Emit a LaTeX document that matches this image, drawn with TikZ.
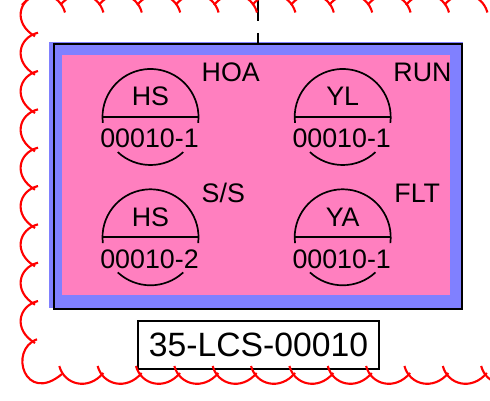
\documentclass[tikz,border=0pt]{standalone}
\usepackage{fontspec}
\setmainfont{Liberation Sans}
\usepackage{xcolor}
\definecolor{panelblue}{HTML}{8080FF}
\definecolor{panelpink}{HTML}{FF7FBF}
\tikzset{
    cloud edge/.style={draw=red, line width=2.1pt},
    instr line/.style={draw=black, line width=1.7pt},
    instr text/.style={anchor=base, inner sep=0pt, font=\fontsize{26.8}{30}\selectfont},
    lamp label/.style={anchor=base west, inner sep=0pt, font=\fontsize{26.8}{30}\selectfont}
}
\begin{document}
\begin{tikzpicture}[x=1pt, y=-1pt]
    \clip (0,0) rectangle (490,401);
    \fill[panelblue] (49,42.5) rectangle (463,308);
    \fill[panelpink] (62,55.5) rectangle (450,295);
    \node (panel) [draw, line width=2.5pt, inner sep=0pt, minimum width=408pt, minimum height=265pt] at (258,176.5) {};

    % lead going up out of the panel
    \coordinate (lead) at (258,0);
    \draw[line width=1.7pt, dash pattern=on 21pt off 12pt] (lead) -- (lead |- panel.north);

    \foreach \n/\cx/\cy/\tagtext/\numtext/\lab/\labx in {
        a/150.5/117/HS/00010-1/HOA/51,
        b/342.7/117/YL/00010-1/RUN/50.5,
        c/150.5/237.3/HS/00010-2/S\slash S/51,
        d/342.7/237.3/YA/00010-1/FLT/51.5} {
        \begin{scope}[shift={(\cx,\cy)}]
            \draw[instr line] (187:48pt) arc[start angle=187, end angle=-7, radius=48pt];
            \draw[instr line] (-48,0) -- (48,0);
            \draw[instr line] (-133:48pt) arc[start angle=-133, end angle=-47, radius=48pt];
            \node (tag\n) [instr text] at (0,-11) {\tagtext};
            \node (num\n) [instr text] at (-1,31) {\numtext};
            \node (lab\n) [lamp label] at (\labx,-35) {\lab};
        \end{scope}
    }

    \node (title) [draw, line width=1.7pt, fill=white, inner sep=0pt, minimum width=241pt, minimum height=48pt,
        font=\fontsize{33.7}{38}\selectfont] at (258.5,345) {35-LCS-00010};

    % scallops, left side then bottom then top
    \foreach \i [evaluate=\i as \ty using 32.7+38.33*\i] in {-1,...,7} {
        \draw[cloud edge] (38,\ty) .. controls (18,\ty+5) and (13,\ty+29) .. (35,\ty+42);
    }
    \draw[cloud edge] (37,339.3) .. controls (8,350) and (25,405) .. (62,374);
    \foreach \i [evaluate=\i as \tx using 59.3+38.35*\i] in {0,...,11} {
        \draw[cloud edge] (\tx,366) .. controls (\tx+5,385) and (\tx+29,391) .. (\tx+44,373);
    }
    \foreach \i [evaluate=\i as \tx using 65+38.4*\i] in {0,...,11} {
        \draw[cloud edge] (\tx,12.5) .. controls (\tx-5,-6.5) and (\tx-29,-12.5) .. (\tx-43,5);
    }
\end{tikzpicture}
\end{document}
